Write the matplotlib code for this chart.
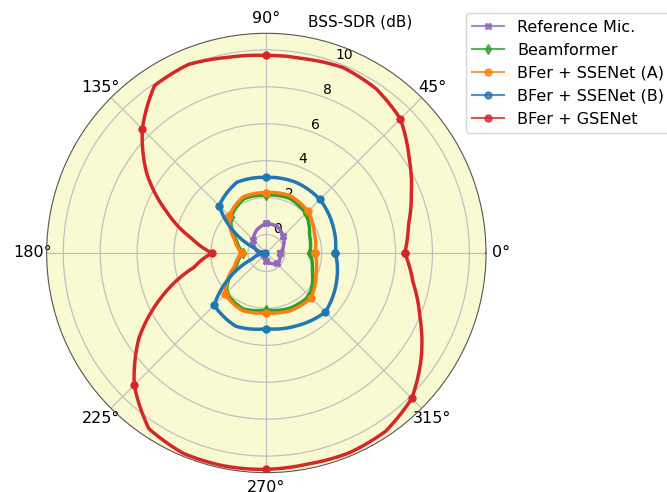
import numpy as np
import matplotlib
matplotlib.use("Agg")
import matplotlib.pyplot as plt
from matplotlib.lines import Line2D

# inner curves read every 22.5 deg, the big red curve every 11.25 deg
angles_deg = np.arange(0, 360, 22.5)
red_angles_deg = np.arange(0, 360, 11.25)

ref_mic = [-0.25, 0.0, 0.3, 0.55, 0.6, 0.35, 0.0, -0.35,
           -0.6, -0.8, -0.85, -0.7, -0.55, -0.4, -0.2, -0.2]
beamformer = [1.36, 1.53, 2.03, 2.22, 2.14, 2.18, 1.73, 0.75,
              0.25, 0.75, 2.07, 2.28, 2.09, 2.25, 2.29, 1.7]
ssenet_a = [1.64, 1.81, 2.19, 2.36, 2.27, 2.29, 1.83, 0.85,
            0.33, 0.85, 2.16, 2.38, 2.23, 2.38, 2.43, 1.91]
ssenet_b = [2.74, 2.9, 3.1, 3.15, 3.1, 3.15, 2.62, -0.3,
            -0.95, -0.2, 3.0, 3.3, 3.1, 3.27, 3.52, 3.11]
gsenet = [6.5, 6.85, 7.5, 8.3, 9.27, 9.7, 9.87, 9.72,
          9.7, 9.8, 10.05, 9.9, 8.5, 6.8, 4.85, 3.15,
          1.94, 3.0, 5.1, 7.3, 9.12, 10.45, 10.75, 10.76,
          10.72, 10.65, 10.72, 10.62, 10.14, 9.1, 8.0, 7.1]

labels = ["Reference Mic.", "Beamformer", "BFer + SSENet (A)",
          "BFer + SSENet (B)", "BFer + GSENet"]
colors = ["tab:purple", "tab:green", "tab:orange", "tab:blue", "tab:red"]
markers = ["X", "d", "o", "o", "o"]
r_ticks = [0, 2, 4, 6, 8, 10]

series = [(angles_deg, ref_mic), (angles_deg, beamformer),
          (angles_deg, ssenet_a), (angles_deg, ssenet_b),
          (red_angles_deg, gsenet)]

fig = plt.figure(figsize=(6.67, 4.92), dpi=100)
ax = fig.add_axes([0.0699, 0.0393, 0.6588, 0.893], projection="polar")
ax.set_facecolor("lightgoldenrodyellow")

for (ang, vals), c, m in zip(series, colors, markers):
    theta = np.deg2rad(np.append(ang, 360))
    r = np.append(vals, vals[0])
    line, = ax.plot(theta, r, color=c, lw=2.5)
    # let the polar transform draw each segment as a curve, not a chord
    line.get_path()._interpolation_steps = 40
    on45 = np.append(ang, 360) % 45 == 0
    ax.plot(theta[on45], r[on45], ls="none", color=c, marker=m, ms=5)

ax.set_ylim(-1, 10.9)
ax.set_rticks(r_ticks)
ax.set_rlabel_position(70)
ax.tick_params(axis="y", labelsize=10)
ax.tick_params(axis="x", labelsize=11.5, pad=0)
ax.grid(True, color="#c0c0c0", lw=0.9)
ax.spines["polar"].set_color("#555555")

ax.text(0.713, 1.026, "BSS-SDR (dB)", transform=ax.transAxes,
        ha="center", va="center", fontsize=11)

handles = [Line2D([], [], color=c, marker=m, lw=1.5, ms=5, alpha=0.8)
           for c, m in zip(colors, markers)]
fig.legend(handles, labels, loc="upper left", bbox_to_anchor=(0.6987, 0.973),
           borderaxespad=0, fontsize=11.5)

fig.savefig("out.png", dpi=100)
